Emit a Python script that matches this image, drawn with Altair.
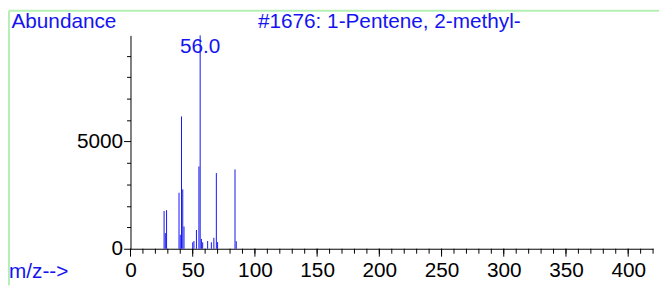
import altair as alt
import pandas as pd

# m/z values and abundances
mz = [27, 28, 29, 39, 40, 41, 42, 43, 50, 51, 53, 55, 56, 57, 58, 62, 65, 67, 69, 70, 84, 85]
abundance = [1760, 730, 1800, 2610, 650, 6170, 2770, 1040, 300, 360, 875, 3840, 9950, 460, 300, 360, 300, 510, 3530, 310, 3700, 350]

x_minor_ticks = list(range(0, 421, 10))
x_major_ticks = list(range(0, 401, 50))
y_ticks = list(range(0, 10000, 1000))

title_text = ["#1676: 1-Pentene, 2-methyl-"]
ylabel_text = ["Abundance"]
xlabel_text = ["m/z-->"]
peak_mz = [56]
peak_text = ["56.0"]

BLUE = "#1414f0"
GREEN = "#b4f0b4"
FONT = "Liberation Sans"
FS = 21
H = 216

df = pd.DataFrame({"mz": mz, "ab": abundance})

xscale = alt.Scale(domain=[0, 420], nice=False, zero=False)
yscale = alt.Scale(domain=[0, 9950], nice=False)

xaxis = alt.Axis(
    values=x_major_ticks,
    ticks=False,
    domainColor="black", labelColor="black",
    labelFont=FONT, labelFontSize=FS, labelPadding=11,
    labelOverlap=False, labelFlush=False, grid=False, title=None,
)
yaxis = alt.Axis(
    values=y_ticks, format="d",
    labelExpr="datum.value % 5000 === 0 ? datum.label : ''",
    ticks=True, tickWidth=1,
    tickSize={"condition": {"test": "datum.value % 5000 === 0", "value": 7}, "value": 4},
    tickColor="#000000", domainColor="black", labelColor="black",
    labelFont=FONT, labelFontSize=FS, labelPadding=1,
    labelOverlap=False, labelFlush=False, grid=False, title=None,
)

bars = alt.Chart(df).mark_rule(strokeWidth=1).encode(
    x=alt.X("mz:Q", scale=xscale, axis=xaxis),
    y=alt.Y("ab:Q", scale=yscale, axis=yaxis),
    y2=alt.datum(0),
    color=alt.value(BLUE),
)

minor = alt.Chart(pd.DataFrame({"v": x_minor_ticks})).mark_rule(color="black", strokeWidth=1).encode(
    x=alt.X("v:Q", scale=xscale, axis=xaxis), y=alt.value(H), y2=alt.value(H + 5)
)
major = alt.Chart(pd.DataFrame({"v": x_major_ticks})).mark_rule(color="black", strokeWidth=1).encode(
    x=alt.X("v:Q", scale=xscale, axis=xaxis), y=alt.value(H), y2=alt.value(H + 8)
)

peak = alt.Chart(pd.DataFrame({"mz": peak_mz, "t": peak_text})).mark_text(
    color=BLUE, font=FONT, fontSize=FS, align="center", baseline="alphabetic"
).encode(x=alt.X("mz:Q", scale=xscale, axis=xaxis), y=alt.value(17.7), text="t:N")

def label(texts, x, y, align):
    return alt.Chart(pd.DataFrame({"t": texts})).mark_text(
        color=BLUE, font=FONT, fontSize=FS, align=align, baseline="alphabetic"
    ).encode(x=alt.value(x), y=alt.value(y), text="t:N")

ab_lbl = label(ylabel_text, -120.5, -7.5, "left")
title_lbl = label(title_text, 262, -7.5, "center")
mz_lbl = label(xlabel_text, -123, 246, "left")

hline = alt.Chart(pd.DataFrame({"a": [0]})).mark_rule(color=GREEN, strokeWidth=2).encode(
    x=alt.value(-123), x2=alt.value(535), y=alt.value(-25)
)
vline = alt.Chart(pd.DataFrame({"a": [0]})).mark_rule(color=GREEN, strokeWidth=2).encode(
    x=alt.value(-123), y=alt.value(-25), y2=alt.value(253)
)

chart = alt.layer(bars, minor, major, peak, hline, vline, ab_lbl, title_lbl, mz_lbl).properties(
    width=529, height=H,
    autosize=alt.AutoSizeParams(type="none"),
    padding={"left": 124, "top": 26, "right": 6, "bottom": 37},
).configure_view(stroke=None).configure_axis(grid=False)

chart.save("out.html", embed_options={"renderer": "svg", "actions": False})
